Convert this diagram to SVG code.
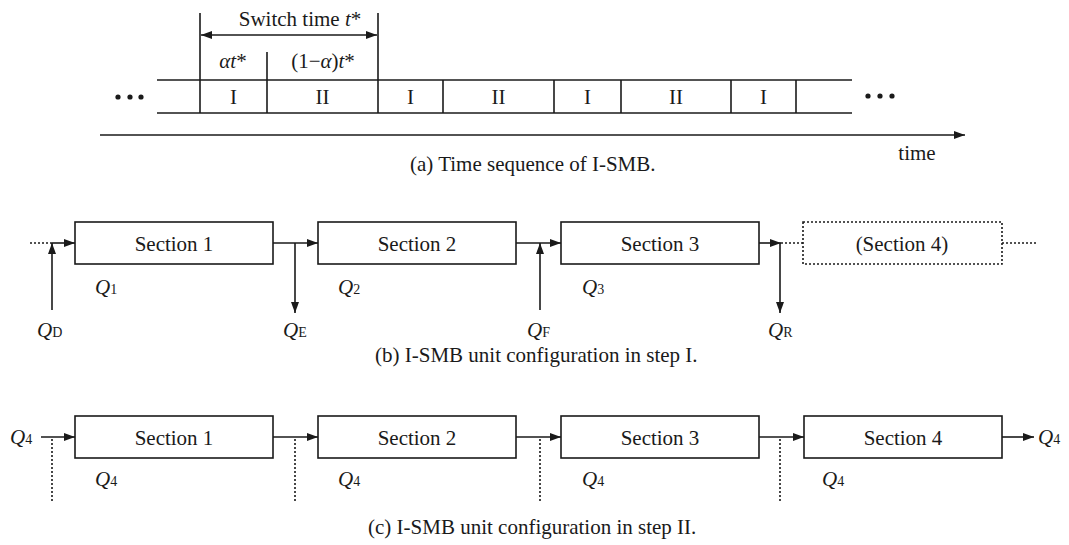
<svg xmlns="http://www.w3.org/2000/svg" width="1069" height="545" viewBox="0 0 1069 545">
<style>
text{font-family:"Liberation Serif","Times New Roman",serif;font-size:21px;fill:#1a1a1a}
.c{text-anchor:middle}
.i{font-style:italic}
.sub{font-size:14px;font-style:normal}
.ln{stroke:#1a1a1a;stroke-width:1.6;fill:none}
.dot{stroke:#1a1a1a;stroke-width:1.6;fill:none;stroke-dasharray:2 2}
.box{stroke:#1a1a1a;stroke-width:1.6;fill:#fff}
.dbox{stroke:#1a1a1a;stroke-width:1.6;fill:#fff;stroke-dasharray:2 2}
</style>
<defs>
<marker id="ah" markerUnits="userSpaceOnUse" markerWidth="12" markerHeight="8" refX="11" refY="4" orient="auto-start-reverse">
<path d="M0,0 L11,4 L0,8 Z" fill="#1a1a1a"/>
</marker>
</defs>
<rect width="1069" height="545" fill="#fff"/>

<!-- (a) time sequence -->
<g id="tape">
<line class="ln" x1="157" y1="80" x2="852" y2="80"/>
<line class="ln" x1="157" y1="113" x2="852" y2="113"/>
<line class="ln" x1="200" y1="13" x2="200" y2="113"/>
<line class="ln" x1="378" y1="13" x2="378" y2="113"/>
<line class="ln" x1="267" y1="52" x2="267" y2="113"/>
<line class="ln" x1="443" y1="80" x2="443" y2="113"/>
<line class="ln" x1="554" y1="80" x2="554" y2="113"/>
<line class="ln" x1="621" y1="80" x2="621" y2="113"/>
<line class="ln" x1="731" y1="80" x2="731" y2="113"/>
<line class="ln" x1="796" y1="80" x2="796" y2="113"/>
</g>
<g id="cell1"><text class="c" x="233.5" y="104">I</text></g>
<g id="cell2"><text class="c" x="322.5" y="104">II</text></g>
<g id="cell3"><text class="c" x="410.5" y="104">I</text></g>
<g id="cell4"><text class="c" x="498.5" y="104">II</text></g>
<g id="cell5"><text class="c" x="587.5" y="104">I</text></g>
<g id="cell6"><text class="c" x="676" y="104">II</text></g>
<g id="cell7"><text class="c" x="763.5" y="104">I</text></g>
<g id="dotsL" fill="#1a1a1a"><circle cx="118" cy="97" r="2.6"/><circle cx="130" cy="97" r="2.6"/><circle cx="141" cy="97" r="2.6"/></g>
<g id="dotsR" fill="#1a1a1a"><circle cx="868" cy="96" r="2.6"/><circle cx="880" cy="96" r="2.6"/><circle cx="892" cy="96" r="2.6"/></g>
<g id="labelsA">
<text class="c" x="300" y="26">Switch time <tspan class="i">t</tspan>*</text>
<text class="c" x="233" y="68"><tspan class="i">αt</tspan>*</text>
<text class="c" x="323" y="68">(1−<tspan class="i">α</tspan>)<tspan class="i">t</tspan>*</text>
<text class="c" x="917" y="160">time</text>
<text x="410" y="171">(a) Time sequence of I-SMB.</text>
</g>

<!-- (b) step I -->
<g id="b-sec1"><rect class="box" x="75" y="222" width="198" height="42"/><text class="c" x="174" y="251">Section 1</text></g>
<g id="b-sec2"><rect class="box" x="318" y="222" width="198" height="42"/><text class="c" x="417" y="251">Section 2</text></g>
<g id="b-sec3"><rect class="box" x="561" y="222" width="198" height="42"/><text class="c" x="660" y="251">Section 3</text></g>
<g id="b-sec4"><rect class="dbox" x="803" y="222" width="199" height="42"/><text class="c" x="902" y="251">(Section 4)</text></g>
<g id="b-labels">
<text class="i" x="95" y="294">Q<tspan class="sub">1</tspan></text>
<text class="i" x="338" y="294">Q<tspan class="sub">2</tspan></text>
<text class="i" x="582" y="294">Q<tspan class="sub">3</tspan></text>
<text class="i" x="37" y="337">Q<tspan class="sub">D</tspan></text>
<text class="i" x="283" y="337">Q<tspan class="sub">E</tspan></text>
<text class="i" x="527" y="337">Q<tspan class="sub">F</tspan></text>
<text class="i" x="768" y="337">Q<tspan class="sub">R</tspan></text>
<text x="375" y="362">(b) I-SMB unit configuration in step I.</text>
</g>

<!-- (c) step II -->
<g id="c-sec1"><rect class="box" x="75" y="416" width="198" height="42"/><text class="c" x="174" y="445">Section 1</text></g>
<g id="c-sec2"><rect class="box" x="318" y="416" width="198" height="42"/><text class="c" x="417" y="445">Section 2</text></g>
<g id="c-sec3"><rect class="box" x="561" y="416" width="198" height="42"/><text class="c" x="660" y="445">Section 3</text></g>
<g id="c-sec4"><rect class="box" x="804" y="416" width="198" height="42"/><text class="c" x="903" y="445">Section 4</text></g>
<g id="c-labels">
<text class="i" x="10" y="444">Q<tspan class="sub">4</tspan></text>
<text class="i" x="1038" y="444">Q<tspan class="sub">4</tspan></text>
<text class="i" x="95" y="486">Q<tspan class="sub">4</tspan></text>
<text class="i" x="338" y="486">Q<tspan class="sub">4</tspan></text>
<text class="i" x="582" y="486">Q<tspan class="sub">4</tspan></text>
<text class="i" x="822" y="486">Q<tspan class="sub">4</tspan></text>
<text x="368" y="534">(c) I-SMB unit configuration in step II.</text>
</g>

<g id="connectors">
<!-- (a) -->
<line class="ln" x1="201" y1="35" x2="377" y2="35" marker-start="url(#ah)" marker-end="url(#ah)"/>
<line class="ln" x1="100" y1="135" x2="965" y2="135" marker-end="url(#ah)"/>
<!-- (b) -->
<line class="dot" x1="30" y1="243" x2="52" y2="243"/>
<line class="ln" x1="52" y1="243" x2="75" y2="243" marker-end="url(#ah)"/>
<line class="ln" x1="52" y1="310" x2="52" y2="243" marker-end="url(#ah)"/>
<line class="ln" x1="273" y1="243" x2="318" y2="243" marker-end="url(#ah)"/>
<line class="ln" x1="295" y1="243" x2="295" y2="313" marker-end="url(#ah)"/>
<line class="ln" x1="516" y1="243" x2="561" y2="243" marker-end="url(#ah)"/>
<line class="ln" x1="540" y1="310" x2="540" y2="243" marker-end="url(#ah)"/>
<line class="ln" x1="759" y1="243" x2="781" y2="243" marker-end="url(#ah)"/>
<line class="ln" x1="780" y1="243" x2="780" y2="313" marker-end="url(#ah)"/>
<line class="dot" x1="781" y1="243" x2="803" y2="243"/>
<line class="dot" x1="1002" y1="243" x2="1036" y2="243"/>
<!-- (c) -->
<line class="ln" x1="41" y1="437" x2="75" y2="437" marker-end="url(#ah)"/>
<line class="ln" x1="273" y1="437" x2="318" y2="437" marker-end="url(#ah)"/>
<line class="ln" x1="516" y1="437" x2="561" y2="437" marker-end="url(#ah)"/>
<line class="ln" x1="759" y1="437" x2="804" y2="437" marker-end="url(#ah)"/>
<line class="ln" x1="1002" y1="437" x2="1034" y2="437" marker-end="url(#ah)"/>
<line class="dot" x1="52" y1="439" x2="52" y2="503"/>
<line class="dot" x1="295" y1="439" x2="295" y2="503"/>
<line class="dot" x1="540" y1="439" x2="540" y2="503"/>
<line class="dot" x1="780" y1="439" x2="780" y2="503"/>
</g>
</svg>
